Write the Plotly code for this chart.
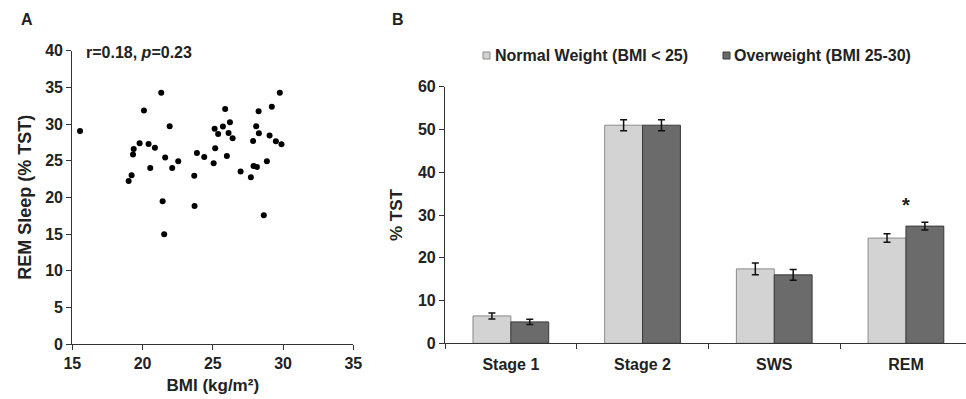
import plotly.graph_objects as go

# ---- Panel A data ----
bmi = [15.55, 21.33, 29.77, 20.10, 25.88, 28.26, 29.20, 21.93, 25.13, 25.72,
       26.22, 25.38, 26.12, 26.41, 28.09, 28.28, 29.04, 27.87, 29.49, 29.89,
       19.79, 20.43, 20.88, 19.37, 19.32, 21.61, 22.54, 22.11, 20.55, 23.87,
       24.39, 25.17, 25.06, 26.00, 23.68, 26.98, 27.71, 27.90, 28.14, 28.85,
       19.22, 19.01, 21.43, 23.70, 21.54, 28.63]
rem_sleep = [29.06, 34.28, 34.28, 31.83, 32.06, 31.75, 32.37, 29.70, 29.37, 29.65,
             30.24, 28.65, 28.79, 28.06, 29.70, 28.74, 28.42, 27.69, 27.65, 27.24,
             27.38, 27.28, 26.78, 26.60, 25.83, 25.42, 24.92, 24.01, 24.01, 26.06,
             25.51, 26.70, 24.65, 25.65, 22.96, 23.51, 22.74, 24.28, 24.15, 24.92,
             23.01, 22.24, 19.47, 18.83, 14.97, 17.56]
x_ticks_a = [15, 20, 25, 30, 35]
y_ticks_a = [0, 5, 10, 15, 20, 25, 30, 35, 40]

# ---- Panel B data ----
stages = ["Stage 1", "Stage 2", "SWS", "REM"]
normal_vals = [6.4, 51.0, 17.4, 24.6]
normal_err = [0.7, 1.3, 1.4, 1.0]
over_vals = [5.0, 51.0, 16.0, 27.4]
over_err = [0.6, 1.3, 1.25, 0.9]
y_ticks_b = [0, 10, 20, 30, 40, 50, 60]
series_names = ["Normal Weight (BMI < 25)", "Overweight (BMI 25-30)"]

W, H = 966, 399
FONT = "Arial, Liberation Sans, sans-serif"
TXT = "#222222"
AX = "#333333"
C_NORMAL = "#d3d3d3"
C_OVER = "#6b6b6b"


def px_x(p):
    return p / W


def px_y(p):
    return 1 - p / H


fig = go.Figure()

fig.add_trace(go.Scatter(
    x=bmi, y=rem_sleep, mode="markers",
    marker=dict(color="black", size=6),
    xaxis="x", yaxis="y", showlegend=False, cliponaxis=False))

fig.add_trace(go.Bar(
    x=stages, y=normal_vals, name=series_names[0],
    marker=dict(color=C_NORMAL, line=dict(color="#8a8a8a", width=1)),
    error_y=dict(type="data", array=normal_err, color="#111111", thickness=1.5, width=3.5),
    xaxis="x2", yaxis="y2", showlegend=False))
fig.add_trace(go.Bar(
    x=stages, y=over_vals, name=series_names[1],
    marker=dict(color=C_OVER, line=dict(color="#3a3a3a", width=1)),
    error_y=dict(type="data", array=over_err, color="#111111", thickness=1.5, width=3.5),
    xaxis="x2", yaxis="y2", showlegend=False))

axis_common = dict(showline=True, linecolor=AX, linewidth=1.2, ticks="outside",
                   ticklen=5, tickcolor=AX, tickwidth=1.2, showgrid=False, zeroline=False,
                   automargin=False,
                   tickfont=dict(family=FONT, size=16, color=TXT, weight="bold"))

fig.update_layout(
    width=W, height=H,
    margin=dict(l=0, r=0, t=0, b=0, autoexpand=False),
    paper_bgcolor="white", plot_bgcolor="white",
    bargap=0.425, bargroupgap=0,
    xaxis=dict(domain=[px_x(72.3), px_x(353.3)], range=[15, 35], tickvals=x_ticks_a,
               anchor="y",
               title=dict(text="BMI (kg/m²)", standoff=7,
                          font=dict(family=FONT, size=17, color=TXT, weight="bold")),
               **axis_common),
    yaxis=dict(domain=[px_y(344), px_y(50.7)], range=[0, 40], tickvals=y_ticks_a,
               anchor="x",
               title=dict(text="REM Sleep (% TST)", standoff=8,
                          font=dict(family=FONT, size=18, color=TXT, weight="bold")),
               **axis_common),
    xaxis2=dict(domain=[px_x(445), 1.0], range=[-0.5, 3.456], anchor="y2",
                tickson="boundaries", type="category", ticklabelstandoff=6,
                **axis_common),
    yaxis2=dict(domain=[px_y(343.3), px_y(86.7)], range=[0, 60], tickvals=y_ticks_b,
                anchor="x2",
                title=dict(text="% TST", standoff=10,
                           font=dict(family=FONT, size=17, color=TXT, weight="bold")),
                **axis_common),
)

annotations = [
    dict(text="<b>A</b>", x=px_x(27), y=px_y(19), xref="paper", yref="paper",
         xanchor="center", yanchor="middle",
         showarrow=False, font=dict(family=FONT, size=16, color=TXT)),
    dict(text="<b>B</b>", x=px_x(398), y=px_y(19), xref="paper", yref="paper",
         xanchor="center", yanchor="middle",
         showarrow=False, font=dict(family=FONT, size=16, color=TXT)),
    dict(text="<b>r=0.18, <i>p</i>=0.23</b>", x=px_x(84), y=px_y(53), xref="paper", yref="paper",
         xanchor="left", yanchor="middle", showarrow=False, font=dict(family=FONT, size=16, color=TXT)),
    dict(text="<b>*</b>", x="REM", y=32.3, xref="x2", yref="y2", showarrow=False,
         xanchor="center", yanchor="middle",
         font=dict(family=FONT, size=20, color=TXT)),
    # legend labels
    dict(text="<b>" + series_names[0] + "</b>", x=px_x(493), y=px_y(55), xref="paper", yref="paper",
         xanchor="left", yanchor="middle", showarrow=False, font=dict(family=FONT, size=16, color=TXT)),
    dict(text="<b>" + series_names[1] + "</b>", x=px_x(732), y=px_y(55), xref="paper", yref="paper",
         xanchor="left", yanchor="middle", showarrow=False, font=dict(family=FONT, size=16, color=TXT)),
]
fig.update_layout(annotations=annotations)

shapes = [
    dict(type="rect", xref="paper", yref="paper", x0=px_x(483), x1=px_x(490),
         y0=px_y(59), y1=px_y(52), fillcolor=C_NORMAL, line=dict(color="#8a8a8a", width=1)),
    dict(type="rect", xref="paper", yref="paper", x0=px_x(723), x1=px_x(730),
         y0=px_y(59), y1=px_y(52), fillcolor=C_OVER, line=dict(color="#3a3a3a", width=1)),
]
fig.update_layout(shapes=shapes)

fig.write_html("out.html", config={"displayModeBar": False},
               post_script="document.body.style.margin='0';document.body.style.overflow='hidden';")
